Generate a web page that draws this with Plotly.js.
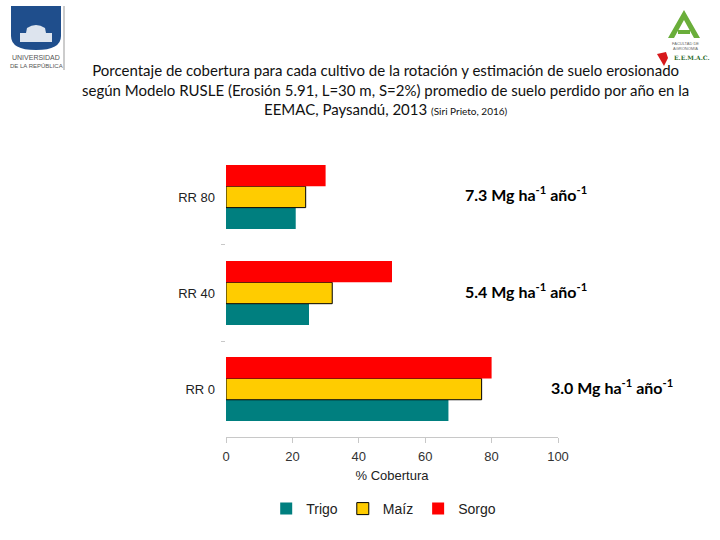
<!DOCTYPE html>
<html>
<head>
<meta charset="utf-8">
<script src="https://cdn.plot.ly/plotly-3.0.1.min.js"></script>
<style>
  html, body { margin: 0; padding: 0; background: #fff; }
  #chart { width: 720px; height: 540px; }
</style>
</head>
<body>
<div id="chart"></div>
<script>
// Rotation treatments (bottom to top) and ground cover (%) by crop
const rotations = ['RR 0', 'RR 40', 'RR 80'];
const trigo = [67, 25, 21];
const maiz  = [77, 32, 24];
const sorgo = [80, 50, 30];

// Mean soil loss per treatment
const soilLoss = ['3.0', '5.4', '7.3'];
const lossX = [97.3, 71.4, 71.4];

const xTicks = [0, 20, 40, 60, 80, 100];

// Plot area in page pixels, used to place the logo decorations
const L = 226, R = 558, T = 149, B = 437;
const px = x => (x - L) / (R - L);
const py = y => (B - y) / (B - T);

const barFont = 'Liberation Sans, Arial, sans-serif';
const titleFont = 'Lato, Open Sans, sans-serif';

const traces = [
  { name: 'Trigo', y: rotations, x: trigo, type: 'bar', orientation: 'h',
    marker: { color: '#007F7F', line: { width: 0 } } },
  { name: 'Maíz', y: rotations, x: maiz, type: 'bar', orientation: 'h',
    marker: { color: '#FFCC00', line: { color: '#000', width: 1 } } },
  { name: 'Sorgo', y: rotations, x: sorgo, type: 'bar', orientation: 'h',
    marker: { color: '#FF0000', line: { width: 0 } } }
];

const annotations = rotations.map((r, i) => ({
  x: lossX[i], y: r, xref: 'x', yref: 'y', xanchor: 'left', yanchor: 'middle',
  showarrow: false, yshift: 3,
  text: '<b>' + soilLoss[i] + ' Mg ha<sup>-1</sup> año<sup>-1</sup></b>',
  font: { family: titleFont, size: 16, color: '#000' }
}));

// Figure title, three centred lines
annotations.push({
  xref: 'paper', yref: 'paper', x: px(385), y: py(90), xanchor: 'center', yanchor: 'middle',
  showarrow: false, align: 'center',
  text: 'Porcentaje de cobertura para cada cultivo de la rotación y estimación de suelo erosionado<br>' +
        'según Modelo RUSLE (Erosión 5.91, L=30 m, S=2%) promedio de suelo perdido por año en la<br>' +
        'EEMAC, Paysandú, 2013 <span style="font-size:10px">(Siri Prieto, 2016)</span>',
  font: { family: titleFont, size: 15, color: '#111' }
});

// University logo text
annotations.push({
  xref: 'paper', yref: 'paper', x: px(36), y: py(58), xanchor: 'center', yanchor: 'middle',
  showarrow: false, text: 'UNIVERSIDAD', font: { family: barFont, size: 7, color: '#555' }
});
annotations.push({
  xref: 'paper', yref: 'paper', x: px(36), y: py(66), xanchor: 'center', yanchor: 'middle',
  showarrow: false, text: 'DE LA REPÚBLICA', font: { family: barFont, size: 6, color: '#555' }
});
// Faculty / station logo text
annotations.push({
  xref: 'paper', yref: 'paper', x: px(685), y: py(46), xanchor: 'center', yanchor: 'middle',
  showarrow: false, text: 'FACULTAD DE<br>AGRONOMÍA', font: { family: barFont, size: 4, color: '#666' }
});
annotations.push({
  xref: 'paper', yref: 'paper', x: px(692), y: py(58), xanchor: 'center', yanchor: 'middle',
  showarrow: false, text: '<b>E.E.M.A.C.</b>', font: { family: 'DejaVu Serif, serif', size: 6, color: '#2a6a2a' }
});

const shapes = [
  // university shield
  { type: 'path', xref: 'paper', yref: 'paper', line: { width: 0 }, fillcolor: '#1F4E8C',
    path: `M ${px(11)},${py(6)} L ${px(61)},${py(6)} L ${px(61)},${py(36)} Q ${px(61)},${py(50)} ${px(36)},${py(50)} Q ${px(11)},${py(50)} ${px(11)},${py(36)} Z` },
  // building silhouette
  { type: 'path', xref: 'paper', yref: 'paper', line: { width: 0 }, fillcolor: 'rgba(255,255,255,0.85)',
    path: `M ${px(20)},${py(42)} L ${px(20)},${py(33)} L ${px(26)},${py(33)} L ${px(27)},${py(28)} Q ${px(36)},${py(22)} ${px(45)},${py(28)} L ${px(46)},${py(33)} L ${px(52)},${py(33)} L ${px(52)},${py(42)} Z` },
  { type: 'line', xref: 'paper', yref: 'paper', x0: px(64), x1: px(64), y0: py(6), y1: py(70),
    line: { color: '#999', width: 1 } },
  // faculty "A" emblem
  { type: 'path', xref: 'paper', yref: 'paper', line: { width: 0 }, fillcolor: '#6AAE3A',
    path: `M ${px(684)},${py(10)} L ${px(700)},${py(38)} L ${px(694)},${py(38)} L ${px(684)},${py(20)} L ${px(674)},${py(38)} L ${px(668)},${py(38)} Z` },
  { type: 'rect', xref: 'paper', yref: 'paper', line: { width: 0 }, fillcolor: '#6AAE3A',
    x0: px(678), x1: px(690), y0: py(30), y1: py(34) },
  // red flag
  { type: 'path', xref: 'paper', yref: 'paper', line: { width: 0 }, fillcolor: '#D7191C',
    path: `M ${px(657)},${py(54)} L ${px(666)},${py(52)} L ${px(668)},${py(58)} L ${px(664)},${py(66)} Z` }
];

const layout = {
  width: 720, height: 540,
  paper_bgcolor: '#fff', plot_bgcolor: '#fff',
  margin: { l: L, r: 720 - R, t: T, b: 540 - B, pad: 0 },
  barmode: 'group', bargap: 0.333, bargroupgap: 0,
  showlegend: true,
  legend: {
    orientation: 'h', x: 0.475, y: -0.25, xanchor: 'center', yanchor: 'middle',
    font: { family: barFont, size: 14, color: '#222' }, traceorder: 'normal',
    itemwidth: 30
  },
  xaxis: {
    range: [0, 100], tickvals: xTicks, ticktext: xTicks.map(String),
    showgrid: false, zeroline: false, showline: true, linecolor: '#c8c8c8', linewidth: 1,
    ticks: 'outside', ticklen: 5, tickcolor: '#c8c8c8', ticklabelstandoff: 2,
    tickfont: { family: barFont, size: 13, color: '#333' },
    title: { text: '% Cobertura', font: { family: barFont, size: 13, color: '#222' }, standoff: 8 }
  },
  yaxis: {
    type: 'category', categoryorder: 'array', categoryarray: rotations,
    range: [-0.499, 2.499], showgrid: false, zeroline: false, showline: false,
    ticks: 'outside', tickson: 'boundaries', ticklen: 4, tickcolor: '#c8c8c8',
    ticklabelstandoff: 10,
    tickfont: { family: barFont, size: 13, color: '#222' }
  },
  annotations: annotations,
  shapes: shapes
};

Plotly.newPlot('chart', traces, layout, { displayModeBar: false, staticPlot: true });
</script>
</body>
</html>
